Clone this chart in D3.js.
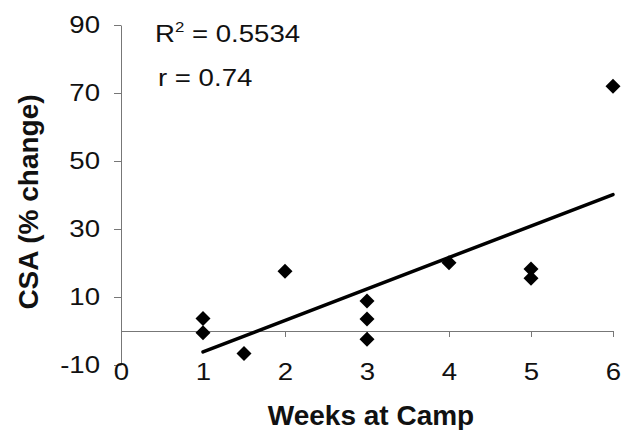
<!DOCTYPE html>
<html>
<head>
<meta charset="utf-8">
<script src="https://cdn.jsdelivr.net/npm/d3@7"></script>
<style>
  html, body { margin: 0; padding: 0; background: #fff; }
  svg text { font-family: "Liberation Sans", Arial, sans-serif; fill: #111; }
  .tick-lbl { font-size: 23px; }
  .title { font-size: 28px; font-weight: bold; }
  .note { font-size: 23px; }
</style>
</head>
<body>
<div id="root"></div>
<script>
// dados
const weeks     = [1,   1,    1.5,  2,    3,   3,   3,    4,    5,    5,    6];
const csaChange = [3.7, -0.5, -6.6, 17.6, 8.8, 3.5, -2.4, 20.1, 18.2, 15.5, 72];
const xTicks = [0, 1, 2, 3, 4, 5, 6];
const yTicks = [-10, 10, 30, 50, 70, 90];
const r2Label = "0.5534";
const rLabel  = "0.74";

const W = 622, H = 430;
const stretch = 1.2; // o texto da figura original está alargado na horizontal
const fmt = d => String(d); // hífen simples como no original

const svg = d3.select('#root').append('svg').attr('width', W).attr('height', H);

const x = d3.scaleLinear().domain([0, 6]).range([121, 613]);
const y = d3.scaleLinear().domain([-10, 90]).range([365, 25]);

// eixo Y
const gy = svg.append('g').attr('transform', `translate(${x(0)},0)`)
  .call(d3.axisLeft(y).tickValues(yTicks).tickFormat(fmt).tickSize(7).tickSizeOuter(0).tickPadding(10.5));
gy.selectAll('text').attr('class', 'tick-lbl').attr('transform', `scale(${stretch},1)`);

// eixo X (cruza em 0, rótulos em baixo)
const gx = svg.append('g').attr('transform', `translate(0,${y(0)})`)
  .call(d3.axisBottom(x).tickValues(xTicks).tickFormat(fmt).tickSize(6).tickSizeOuter(0));
gx.selectAll('text').attr('class', 'tick-lbl')
  .attr('y', 380 - y(0)).attr('dy', 0)
  .attr('transform', `scale(${stretch},1)`);

svg.selectAll('.domain, .tick line').attr('stroke', '#777').attr('stroke-width', 1);

// linha de tendência (mínimos quadrados)
const mx = d3.mean(weeks), my = d3.mean(csaChange);
const sxy = d3.sum(weeks, (w, i) => (w - mx) * (csaChange[i] - my));
const sxx = d3.sum(weeks, w => (w - mx) * (w - mx));
const slope = sxy / sxx, icpt = my - slope * mx;
const [x0, x1] = d3.extent(weeks);
svg.append('line')
  .attr('x1', x(x0)).attr('y1', y(icpt + slope * x0))
  .attr('x2', x(x1)).attr('y2', y(icpt + slope * x1))
  .attr('stroke', '#000').attr('stroke-width', 3.5).attr('stroke-linecap', 'round');

// pontos (losangos)
const d = 7.5;
svg.selectAll('path.pt').data(weeks).enter().append('path')
  .attr('class', 'pt')
  .attr('d', `M0,${-d}L${d},0L0,${d}L${-d},0Z`)
  .attr('transform', (w, i) => `translate(${x(w)},${y(csaChange[i])})`)
  .attr('fill', '#000');

// títulos dos eixos
svg.append('text').attr('class', 'title')
  .attr('x', 371).attr('y', 425).attr('text-anchor', 'middle')
  .text('Weeks at Camp');
svg.append('text').attr('class', 'title')
  .attr('transform', 'translate(38,202) rotate(-90)')
  .attr('text-anchor', 'middle')
  .text('CSA (% change)');

// anotações
const n1 = svg.append('text').attr('class', 'note')
  .attr('transform', `translate(155,42) scale(${stretch},1)`);
n1.append('tspan').text('R');
n1.append('tspan').attr('font-size', '14px').attr('dy', -10).text('2');
n1.append('tspan').attr('dy', 10).text(' = ' + r2Label);

svg.append('text').attr('class', 'note')
  .attr('transform', `translate(158,86) scale(${stretch},1)`)
  .text('r = ' + rLabel);
</script>
</body>
</html>
